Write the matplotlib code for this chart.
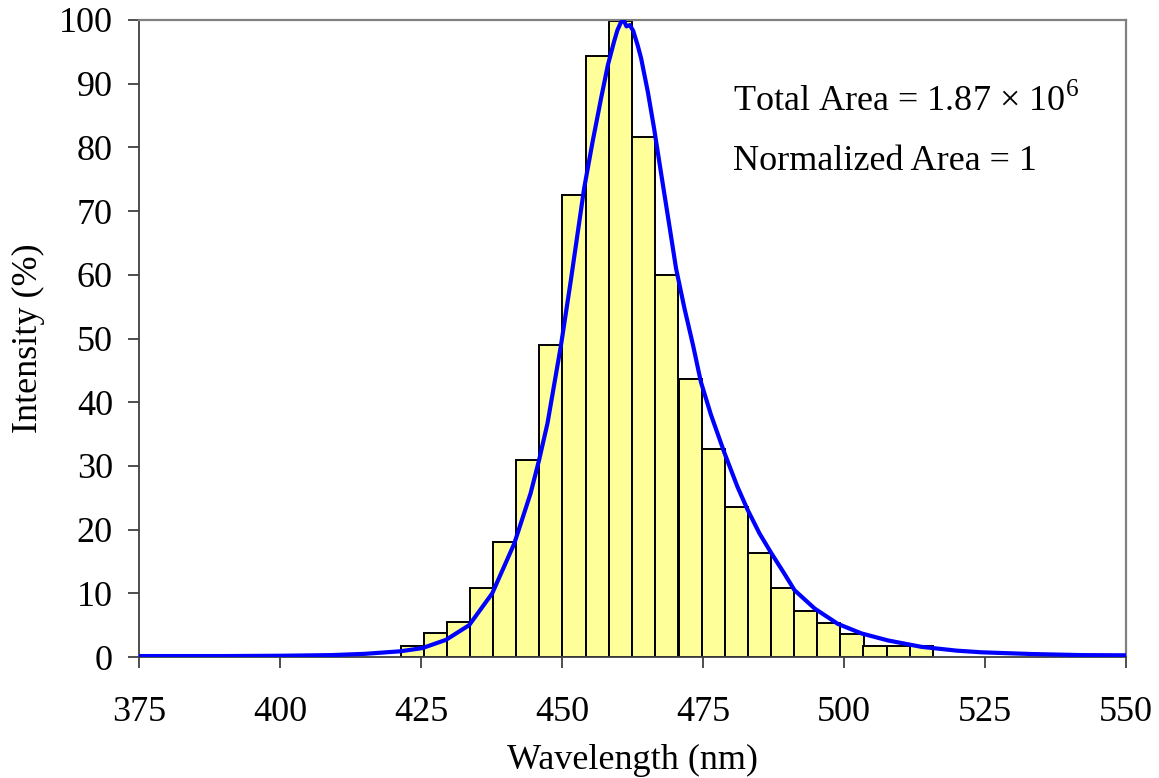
import matplotlib
matplotlib.use("Agg")
import matplotlib.pyplot as plt

# histogram bins (nm, bin centres) and heights (%)
bin_centers = [423.4, 427.5, 431.6, 435.7, 439.8, 443.9, 448.0, 452.1,
               456.2, 460.3, 464.4, 468.5, 472.7, 476.8, 480.9, 485.0,
               489.1, 493.2, 497.3, 501.4, 505.5, 509.6, 513.7]
bin_heights = [1.8, 3.7, 5.5, 10.9, 18.1, 30.9, 49.0, 72.6,
               94.4, 99.8, 81.7, 59.9, 43.6, 32.7, 23.6, 16.3,
               10.9, 7.3, 5.4, 3.6, 1.8, 1.8, 1.8]
bin_width = 4.11

# measured spectrum (nm, %)
wl = [375, 390, 400, 409, 415, 421.3, 425.2, 429.4, 433.5, 437.6, 441.5,
      444.4, 445.9, 447.4, 449.8, 451.5, 453.9, 455.4, 456.9, 458.1, 459.2,
      459.8, 460.4, 460.9, 461.4, 462.0, 462.6, 463.4, 464.0, 465.2, 466.3,
      467.5, 469.0, 470.2, 471.7, 473.2, 474.6, 476.4, 478.8, 481.1, 482.9,
      485.0, 487.1, 489.4, 491.2, 494.8, 498.9, 503.1, 507.8, 513.7, 520,
      524.4, 533.3, 542.2, 550]
intensity = [0.15, 0.15, 0.2, 0.3, 0.5, 0.9, 1.4, 2.7, 5.0, 10.0, 17.8,
             25.7, 30.9, 36.7, 49.0, 58.9, 73.6, 80.9, 87.7, 92.9, 96.6,
             98.4, 99.6, 100.0, 99.0, 99.2, 98.3, 96.0, 94.0, 88.7, 83.0,
             76.2, 67.8, 61.0, 54.7, 49.0, 43.2, 38.0, 32.0, 26.7, 23.1,
             19.4, 16.3, 13.1, 10.5, 7.6, 5.2, 3.7, 2.6, 1.6, 1.0,
             0.74, 0.47, 0.3, 0.27]

x_ticks = [375, 400, 425, 450, 475, 500, 525, 550]
y_ticks = list(range(0, 101, 10))

plt.rcParams["font.family"] = ["Liberation Serif", "DejaVu Serif"]

fig = plt.figure(figsize=(11.59, 7.78), dpi=100)
ax = fig.add_axes([0.1202, 0.1555, 0.8513, 0.8188])

ax.bar(bin_centers, bin_heights, width=bin_width, color="#FFFF99",
       edgecolor="black", linewidth=1.4, zorder=2)
ax.plot(wl, intensity, color="#0000FF", linewidth=3.0, zorder=3)

ax.set_xlim(375, 550)
ax.set_ylim(0, 100)
ax.set_xticks(x_ticks)
ax.set_yticks(y_ticks)
ax.tick_params(axis="x", direction="out", length=8, width=1.3,
               color="#404040", pad=20, labelsize=26)
ax.tick_params(axis="y", direction="out", length=8, width=1.3,
               color="#404040", pad=11, labelsize=26)

for s in ("left", "bottom"):
    ax.spines[s].set_color("#404040")
    ax.spines[s].set_linewidth(1.3)
for s in ("top", "right"):
    ax.spines[s].set_color("#808080")
    ax.spines[s].set_linewidth(1.6)

ax.set_xlabel("Wavelength (nm)", fontsize=26, labelpad=11)
ax.set_ylabel("Intensity (%)", fontsize=26, labelpad=10)

ax.text(0.602, 0.858, r"Total Area = 1.87 × 10$^{\mathregular{6}}$",
        transform=ax.transAxes, fontsize=26)
ax.text(0.602, 0.764, "Normalized Area = 1", transform=ax.transAxes,
        fontsize=26)

fig.savefig("out.png", dpi=100)
